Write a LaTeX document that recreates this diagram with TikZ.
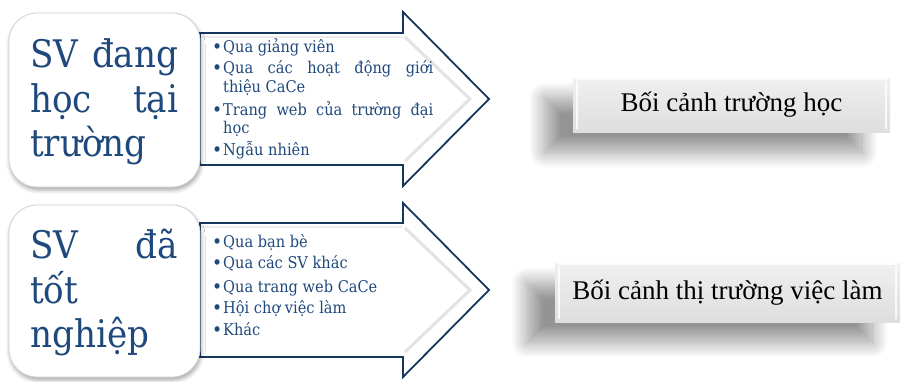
\documentclass[tikz,border=0pt]{standalone}
\usepackage{fontspec}
\setmainfont{DejaVu Serif Condensed}
\newfontfamily\timesf{Liberation Serif}
\usetikzlibrary{shadows.blur}
\definecolor{txtblue}{RGB}{31,73,125}
\definecolor{navy}{RGB}{23,54,93}
\tikzset{
  leftbox/.style={draw=gray!35, line width=0.8pt, fill=white, rounded corners=28pt,
    blur shadow={shadow xshift=1pt, shadow yshift=-3pt, shadow blur radius=4pt, shadow opacity=35},
    inner sep=0pt},
  arrowshape/.style={draw=navy, line width=1.8pt, fill=white, line join=miter},
  bevel/.style={draw=gray!22, line width=3pt, line join=miter},
  rightbox/.style={top color=gray!12, bottom color=gray!26, draw=none,
    blur shadow={shadow xshift=-28pt, shadow yshift=-20pt, shadow blur radius=16pt, shadow opacity=42, shadow blur steps=20},
    inner sep=0pt},
  bigtxt/.style={anchor=base west, inner sep=0pt, text=txtblue, font=\fontsize{38}{44}\selectfont},
  bul/.style={anchor=base west, inner sep=0pt, text=txtblue, font=\fontsize{16.2}{19}\selectfont},
  dot/.style={anchor=base west, inner sep=0pt, text=txtblue, font=\fontsize{19}{19}\selectfont},
  ctxt/.style={inner sep=0pt, font=\timesf\fontsize{27}{30}\selectfont},
  hilite/.style={white, line width=2pt, opacity=0.8},
}
\begin{document}
\begin{tikzpicture}[x=1pt,y=-1pt]
\useasboundingbox (0,0) rectangle (902,381);

% ---------- top arrow
\draw[arrowshape] (200,33) -- (403,33) -- (403,12) -- (489,99) -- (403,186) -- (403,165) -- (200,165) -- cycle;
\draw[bevel] (405,37) -- (470,99) -- (405,161);
\draw[gray!15, line width=2pt] (202,36.5) -- (403,36.5);
% ---------- bottom arrow
\draw[arrowshape] (200,223) -- (403,223) -- (403,203) -- (489,290) -- (403,377) -- (403,357) -- (200,357) -- cycle;
\draw[bevel] (405,228) -- (470,290) -- (405,352);
\draw[gray!15, line width=2pt] (202,226.5) -- (403,226.5);

% ---------- left boxes
\node[leftbox, minimum width=191pt, minimum height=174pt] (b1) at (104.5,100) {};
\node[leftbox, minimum width=191pt, minimum height=172pt] (b2) at (104.5,291) {};

% big texts
\node[bigtxt] (t11) at (30,67) {\makebox[148pt][s]{SV đang}};
\node[bigtxt] (t12) at (30,112) {\makebox[148pt][s]{học tại}};
\node[bigtxt] (t13) at (30,156) {trường};
\node[bigtxt] (t21) at (30,258) {\makebox[148pt][s]{SV đã}};
\node[bigtxt] (t22) at (30,303) {tốt};
\node[bigtxt] (t23) at (30,347) {nghiệp};

% bullets top
\node[dot] (d11) at (212,53) {•};
\node[bul] (l11) at (223,52) {Qua giảng viên};
\node[dot] (d12) at (212,74) {•};
\node[bul] (l12) at (223,73) {\makebox[210pt][s]{Qua các hoạt động giới}};
\node[bul] (l13) at (223,92) {thiệu CaCe};
\node[dot] (d14) at (212,116) {•};
\node[bul] (l14) at (223,115) {\makebox[210pt][s]{Trang web của trường đại}};
\node[bul] (l15) at (223,133) {học};
\node[dot] (d16) at (212,156) {•};
\node[bul] (l16) at (223,155) {Ngẫu nhiên};

% bullets bottom
\node[dot] (d21) at (212,248) {•};
\node[bul] (l21) at (223,247) {Qua bạn bè};
\node[dot] (d22) at (212,269) {•};
\node[bul] (l22) at (223,268) {Qua các SV khác};
\node[dot] (d23) at (212,293) {•};
\node[bul] (l23) at (223,292) {Qua trang web CaCe};
\node[dot] (d24) at (212,314) {•};
\node[bul] (l24) at (223,313) {Hội chợ việc làm};
\node[dot] (d25) at (212,336) {•};
\node[bul] (l25) at (223,335) {Khác};

% ---------- right boxes
\node[rightbox, minimum width=317pt, minimum height=54pt] (r1) at (731.5,105) {};
\draw[hilite] ([xshift=2pt,yshift=-1.5pt]r1.north west) -- ([xshift=-2pt,yshift=-1.5pt]r1.north east);
\draw[hilite] ([xshift=4pt,yshift=-3pt]r1.north west) -- ([xshift=4pt,yshift=3pt]r1.south west);
\draw[hilite] ([xshift=-4pt,yshift=-3pt]r1.north east) -- ([xshift=-4pt,yshift=3pt]r1.south east);
\node[ctxt] (c1) at (r1.center) {Bối cảnh trường học};

\node[rightbox, minimum width=345pt, minimum height=59pt] (r2) at (727.5,292.5) {};
\draw[hilite] ([xshift=2pt,yshift=-1.5pt]r2.north west) -- ([xshift=-2pt,yshift=-1.5pt]r2.north east);
\draw[hilite] ([xshift=4pt,yshift=-3pt]r2.north west) -- ([xshift=4pt,yshift=3pt]r2.south west);
\draw[hilite] ([xshift=-4pt,yshift=-3pt]r2.north east) -- ([xshift=-4pt,yshift=3pt]r2.south east);
\node[ctxt] (c2) at (r2.center) {Bối cảnh thị trường việc làm};
\end{tikzpicture}
\end{document}
